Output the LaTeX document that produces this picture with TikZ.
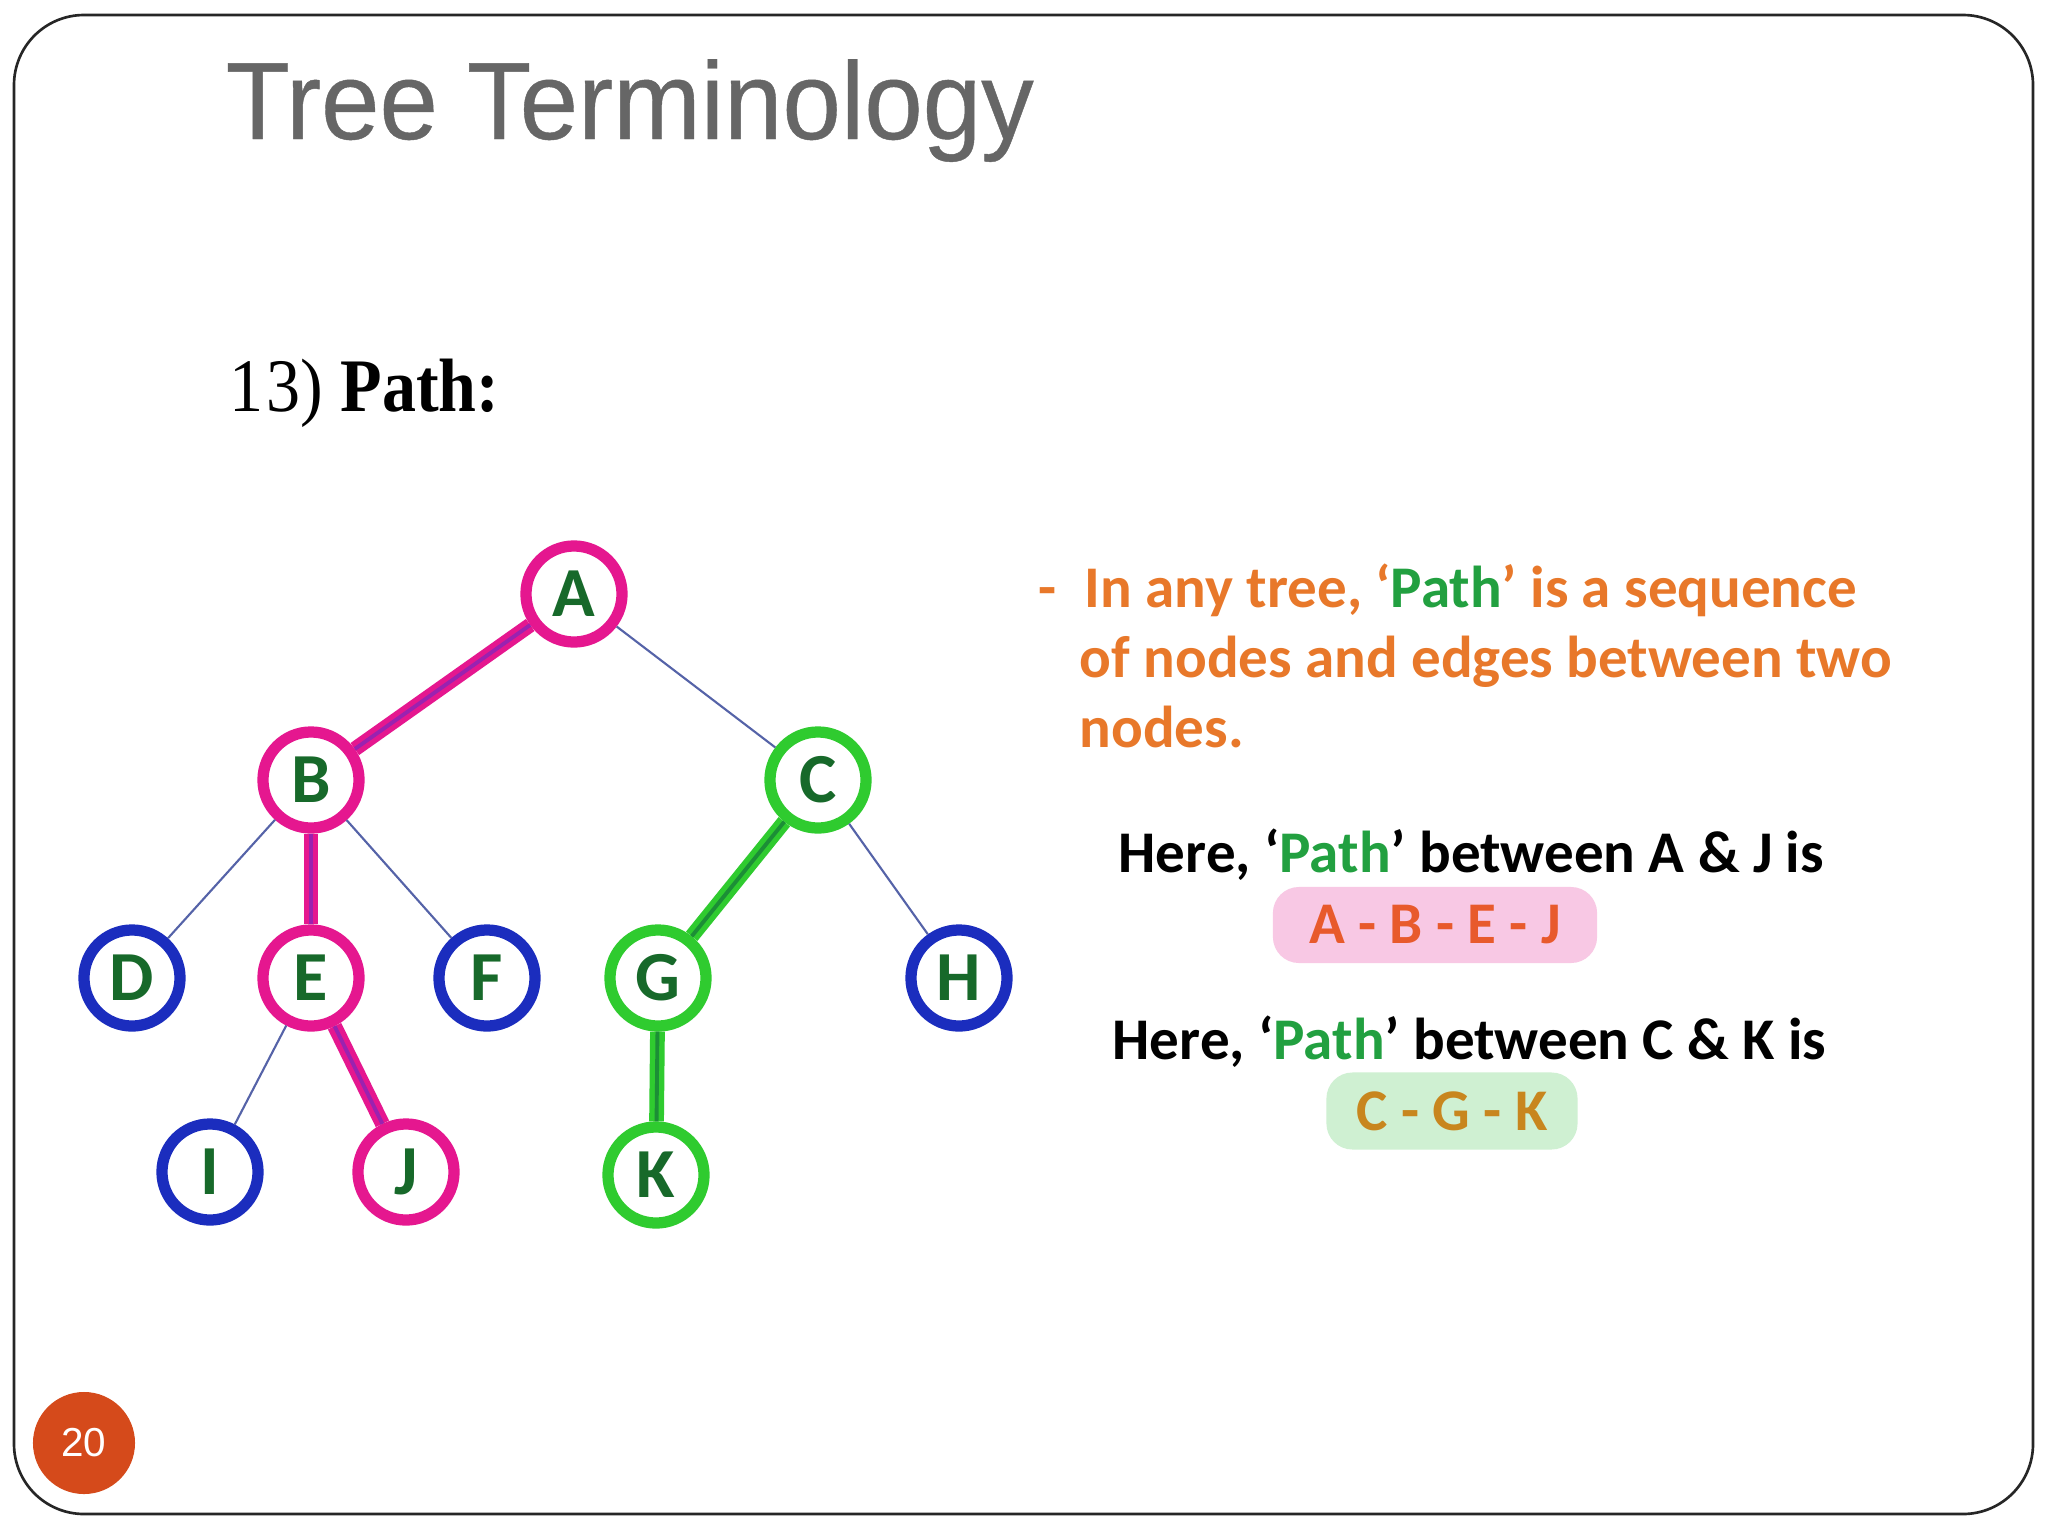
\documentclass[tikz,border=0pt]{standalone}
\usepackage{fontspec}
\usepackage{graphicx}
\setmainfont{Liberation Serif}
\newfontfamily\calibri{Carlito}
\newfontfamily\arialf{Liberation Sans}
\newfontfamily\arialtitle[FakeBold=0.4]{Liberation Sans}
\definecolor{titlegray}{HTML}{666666}
\definecolor{pinkring}{HTML}{E5178F}
\definecolor{greenring}{HTML}{2FCB2F}
\definecolor{bluering}{HTML}{1B2DBE}
\definecolor{lettergreen}{HTML}{17692A}
\definecolor{thinedge}{HTML}{5563A8}
\definecolor{pinkcore}{HTML}{9A22B0}
\definecolor{greencore}{HTML}{1C8E36}
\definecolor{orangetxt}{HTML}{E8782A}
\definecolor{pathgreen}{HTML}{22A040}
\definecolor{pillpink}{HTML}{F8C8E4}
\definecolor{pillgreen}{HTML}{CFF0D2}
\definecolor{redtxt}{HTML}{E85A2C}
\definecolor{goldtxt}{HTML}{C8861E}
\definecolor{badgered}{HTML}{D54A1B}
\begin{document}
\begin{tikzpicture}[x=0.01cm,y=-0.01cm,
  tnode/.style={circle, minimum size=0.96cm, line width=3.2pt, fill=white, inner sep=0pt,
    font=\calibri\bfseries\fontsize{20}{20}\selectfont, text=lettergreen},
  pnode/.style={tnode, draw=pinkring},
  gnode/.style={tnode, draw=greenring},
  bnode/.style={tnode, draw=bluering},
  thinedge/.style={draw=thinedge, line width=0.6pt},
  pinkpath/.style={draw=pinkring, line width=4.2pt},
  pinkmid/.style={draw=pinkcore, line width=1.1pt},
  greenpath/.style={draw=greenring, line width=4.2pt},
  greenmid/.style={draw=greencore, line width=1.1pt},
  txt/.style={anchor=base west, inner sep=0pt, font=\calibri\bfseries\fontsize{16.8}{20}\selectfont},
  pill/.style={rounded corners=0.26cm, inner sep=0pt, font=\calibri\bfseries\fontsize{16.8}{20}\selectfont}
]
\useasboundingbox (0,0) rectangle (2048,1536);
\fill[white] (0,0) rectangle (2048,1536);
% slide frame
\draw[line width=0.75pt, black!85, rounded corners=0.7cm] (14,15) rectangle (2033,1514);

% title
\node[anchor=base west, inner sep=0pt, text=titlegray] (title) at (225,139)
  {\scalebox{0.955}[1]{\arialtitle\fontsize{31.3}{31.3}\selectfont Tree Terminology}};
\node[anchor=base west, inner sep=0pt] (heading) at (229,411)
  {\scalebox{0.9}[1]{\fontsize{21.5}{21.5}\selectfont 1\kern1pt3) \textbf{Path:}}};

% tree nodes
\node[pnode] (A) at (574,594) {A};
\node[pnode] (B) at (311,780) {B};
\node[gnode] (C) at (818,780) {C};
\node[bnode] (D) at (132,978) {D};
\node[pnode] (E) at (311,978) {E};
\node[bnode] (F) at (487,978) {F};
\node[gnode] (G) at (658,978) {G};
\node[bnode] (H) at (959,978) {H};
\node[bnode] (I) at (210,1172) {I};
\node[pnode] (J) at (406,1172) {J};
\node[gnode] (K) at (656,1175) {K};

% edges
\draw[thinedge] (A) -- (C);
\draw[thinedge] (B) -- (D);
\draw[thinedge] (B) -- (F);
\draw[thinedge] (E) -- (I);
\draw[thinedge] (C) -- (H);
\draw[pinkpath] (A) -- (B);
\draw[pinkmid] (A) -- (B);
\draw[pinkpath] (B) -- (E);
\draw[pinkmid] (B) -- (E);
\draw[pinkpath] (E) -- (J);
\draw[pinkmid] (E) -- (J);
\draw[greenpath] (C) -- (G);
\draw[greenmid] (C) -- (G);
\draw[greenpath] (G) -- (K);
\draw[greenmid] (G) -- (K);

% definition text
\node[txt, text=orangetxt] (dash) at (1038,607) {-};
\node[txt, text=orangetxt] (l1) at (1084,607) {In any tree, ‘\textcolor{pathgreen}{Path}’ is a sequence};
\node[txt, text=orangetxt] (l2) at (1079,677) {of nodes and edges between two};
\node[txt, text=orangetxt] (l3) at (1079,747) {nodes.};

% examples
\node[txt, text=black] (ex1) at (1118,872) {Here, ‘\textcolor{pathgreen}{Path}’ between A \& J is};
\node[pill, fill=pillpink, minimum width=3.24cm, minimum height=0.76cm, text=redtxt] (p1) at (1435,925) {A - B - E - J};
\node[txt, text=black] (ex2) at (1112,1059) {Here, ‘\textcolor{pathgreen}{Path}’ between C \& K is};
\node[pill, fill=pillgreen, minimum width=2.51cm, minimum height=0.77cm, text=goldtxt] (p2) at (1452,1111) {C - G - K};

% page badge
\node[circle, fill=badgered, minimum size=1.02cm, inner sep=0pt, text=white,
  font=\arialf\fontsize{11.5}{11.5}\selectfont] (pg) at (84,1443) {20};
\end{tikzpicture}
\end{document}
